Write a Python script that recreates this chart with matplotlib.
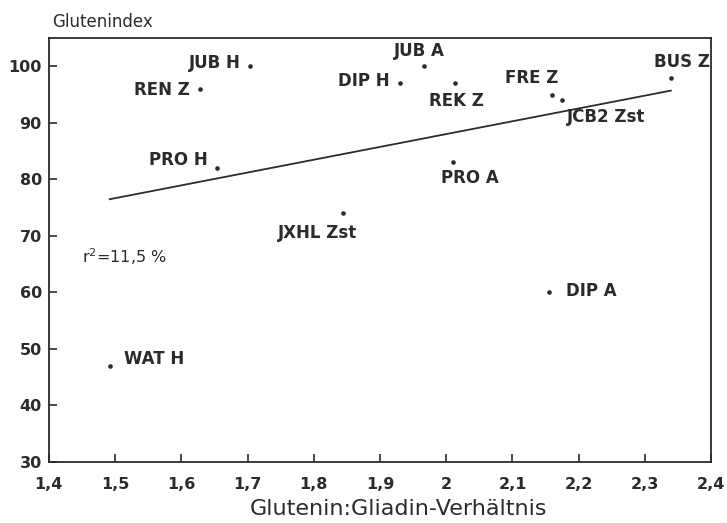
import numpy as np
import matplotlib
matplotlib.use("Agg")
import matplotlib.pyplot as plt

# Data
labels = ["JUB H", "REN Z", "PRO H", "DIP H", "JUB A", "REK Z", "FRE Z",
          "JCB2 Zst", "BUS Z", "PRO A", "JXHL Zst", "DIP A", "WAT H"]
ratio = [1.704, 1.628, 1.654, 1.930, 1.966, 2.013, 2.159,
         2.175, 2.339, 2.010, 1.844, 2.155, 1.492]
gluten_index = [100, 96, 82, 97, 100, 97, 95,
                94, 98, 83, 74, 60, 47]
xticks = [1.4, 1.5, 1.6, 1.7, 1.8, 1.9, 2.0, 2.1, 2.2, 2.3, 2.4]
xticklabels = ["1,4", "1,5", "1,6", "1,7", "1,8", "1,9", "2", "2,1", "2,2", "2,3", "2,4"]
yticks = [30, 40, 50, 60, 70, 80, 90, 100]

# label offsets in pixels (dx, dy, ha)
offsets = {
    "JUB H": (-9, 3, "right"), "REN Z": (-10, -1, "right"), "PRO H": (-9, 8, "right"),
    "DIP H": (-10, 2, "right"), "JUB A": (-4, 15, "center"), "REK Z": (2, -18, "center"),
    "FRE Z": (-20, 17, "center"), "JCB2 Zst": (5, -17, "left"), "BUS Z": (11, 16, "center"),
    "PRO A": (17, -16, "center"), "JXHL Zst": (-25, -20, "center"), "DIP A": (17, 1, "left"),
    "WAT H": (14, 7, "left"),
}

ink = "#2b2b2b"
dpi = 100
fig = plt.figure(figsize=(7.27, 5.23), dpi=dpi)
ax = fig.add_axes([0.0671, 0.1166, 0.9112, 0.8107])

x = np.array(ratio)
y = np.array(gluten_index)
ax.scatter(x, y, s=11, color=ink, zorder=3, linewidths=0)

slope, intercept = np.polyfit(x, y, 1)
xl = np.array([x.min(), x.max()])
ax.plot(xl, slope * xl + intercept, color=ink, lw=1.3)

for lab, xi, yi in zip(labels, x, y):
    dx, dy, ha = offsets[lab]
    ax.annotate(lab, (xi, yi), xytext=(dx * 72 / dpi, dy * 72 / dpi),
                textcoords="offset points", ha=ha, va="center",
                fontsize=12, fontweight="bold", color=ink, family="DejaVu Sans")

ax.text(1.45, 66.3, r"r$^{2}$=11,5 %", fontsize=11.5, color=ink, va="center", ha="left")

ax.set_xlim(1.4, 2.4)
ax.set_ylim(30, 105)
ax.set_xticks(xticks)
ax.set_xticklabels(xticklabels)
ax.set_yticks(yticks)
ax.tick_params(axis="x", direction="in", length=6, width=1.2, colors=ink, labelsize=11.5, pad=11)
ax.tick_params(axis="y", direction="in", length=6, width=1.2, colors=ink, labelsize=11.5, pad=5)
for t in ax.get_xticklabels() + ax.get_yticklabels():
    t.set_fontweight("bold")
for s in ax.spines.values():
    s.set_linewidth(1.3)
    s.set_color(ink)

fig.text(398 / 727, 1 - 509 / 523, "Glutenin:Gliadin-Verhältnis", fontsize=16, color=ink,
         ha="center", va="center")
fig.text(52 / 727, 1 - 21.7 / 523, "Glutenindex", fontsize=12, color=ink,
         ha="left", va="center")

fig.savefig("out.png", dpi=dpi)
